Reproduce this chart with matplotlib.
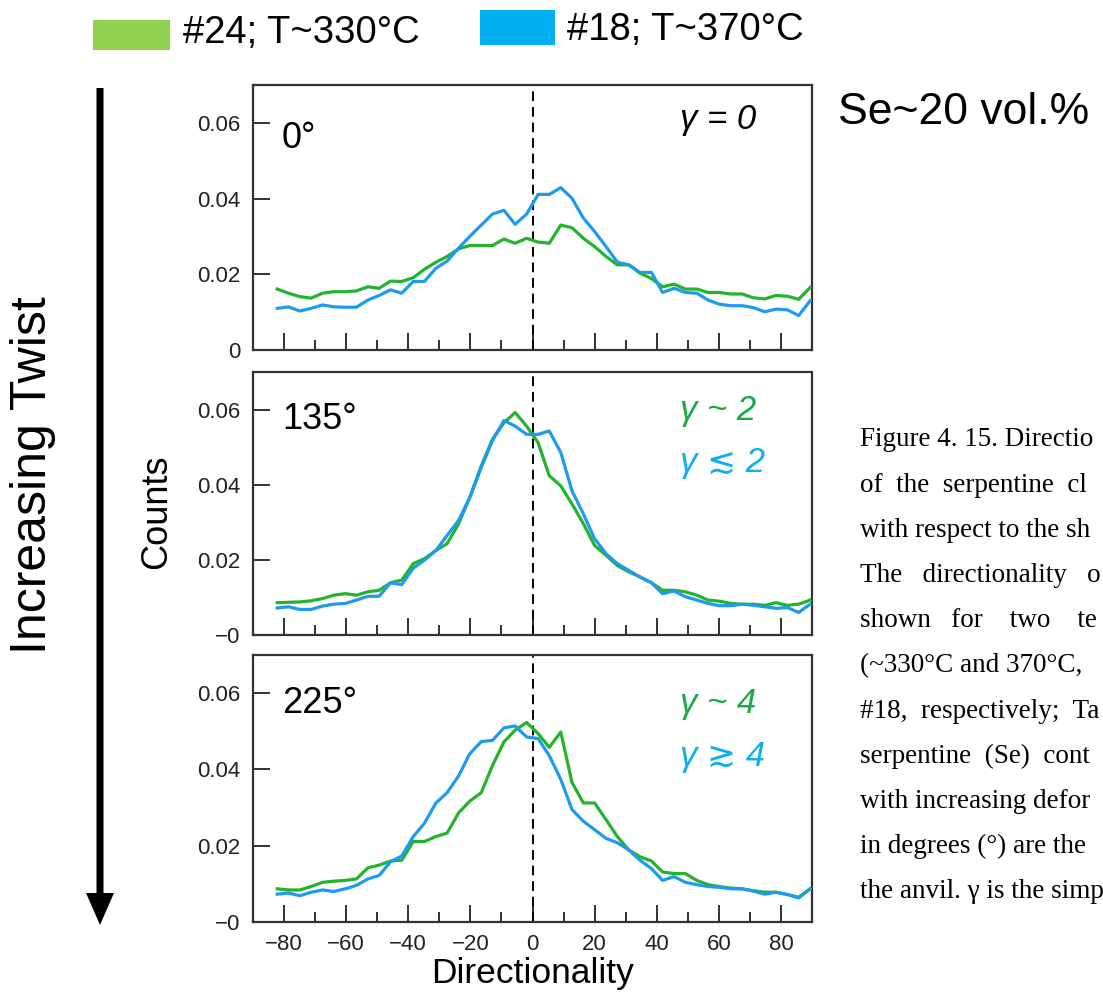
import numpy as np
import matplotlib
matplotlib.use("Agg")
import matplotlib.pyplot as plt
from matplotlib.patches import FancyArrow, Rectangle

plt.rcParams['font.family'] = ['Liberation Sans', 'DejaVu Sans']

# ---- data ----
angles = [-82.2, -78.6, -74.9, -71.3, -67.6, -64.0, -60.3, -56.7, -53.0, -49.4,
          -45.7, -42.1, -38.4, -34.8, -31.1, -27.5, -23.8, -20.2, -16.5, -12.9,
          -9.2, -5.6, -1.9, 1.8, 5.4, 9.1, 12.7, 16.4, 20.0, 23.7,
          27.3, 31.0, 34.6, 38.3, 41.9, 45.6, 49.2, 52.9, 56.5, 60.2,
          63.8, 67.5, 71.1, 74.8, 78.4, 82.1, 85.7, 89.4]

# 0 deg
green_0 = [0.0161, 0.0150, 0.0141, 0.0137, 0.0150, 0.0154, 0.0154, 0.0156, 0.0167, 0.0163,
           0.0182, 0.0181, 0.0191, 0.0213, 0.0232, 0.0247, 0.0267, 0.0276, 0.0276, 0.0276,
           0.0293, 0.0282, 0.0295, 0.0285, 0.0282, 0.0330, 0.0323, 0.0295, 0.0273, 0.0247,
           0.0225, 0.0225, 0.0203, 0.0189, 0.0167, 0.0174, 0.0161, 0.0161, 0.0152, 0.0152,
           0.0148, 0.0148, 0.0138, 0.0135, 0.0144, 0.0142, 0.0134, 0.0165]
blue_0 = [0.0110, 0.0114, 0.0103, 0.0110, 0.0119, 0.0114, 0.0113, 0.0113, 0.0132, 0.0144,
          0.0159, 0.0150, 0.0181, 0.0181, 0.0216, 0.0235, 0.0269, 0.0300, 0.0330, 0.0359,
          0.0369, 0.0332, 0.0359, 0.0411, 0.0411, 0.0429, 0.0401, 0.0348, 0.0313, 0.0273,
          0.0232, 0.0225, 0.0205, 0.0205, 0.0152, 0.0163, 0.0152, 0.0150, 0.0132, 0.0121,
          0.0117, 0.0117, 0.0112, 0.0101, 0.0108, 0.0106, 0.0091, 0.0130]

# 135 deg
green_135 = [0.0086, 0.0087, 0.0088, 0.0091, 0.0097, 0.0106, 0.0110, 0.0106, 0.0115, 0.0119,
             0.0139, 0.0146, 0.0190, 0.0203, 0.0225, 0.0243, 0.0296, 0.0366, 0.0450, 0.0521,
             0.0565, 0.0592, 0.0556, 0.0512, 0.0424, 0.0397, 0.0349, 0.0296, 0.0238, 0.0212,
             0.0185, 0.0168, 0.0155, 0.0139, 0.0119, 0.0119, 0.0115, 0.0106, 0.0093, 0.0090,
             0.0084, 0.0082, 0.0082, 0.0079, 0.0086, 0.0079, 0.0082, 0.0093]
blue_135 = [0.0072, 0.0075, 0.0068, 0.0068, 0.0077, 0.0082, 0.0084, 0.0093, 0.0103, 0.0103,
            0.0139, 0.0134, 0.0178, 0.0199, 0.0225, 0.0265, 0.0305, 0.0366, 0.0446, 0.0517,
            0.0571, 0.0556, 0.0534, 0.0534, 0.0543, 0.0486, 0.0384, 0.0322, 0.0256, 0.0216,
            0.0190, 0.0172, 0.0154, 0.0139, 0.0110, 0.0117, 0.0102, 0.0093, 0.0084, 0.0078,
            0.0078, 0.0082, 0.0079, 0.0075, 0.0071, 0.0073, 0.0060, 0.0082]

# 225 deg
green_225 = [0.0087, 0.0084, 0.0084, 0.0093, 0.0104, 0.0107, 0.0109, 0.0113, 0.0142, 0.0149,
             0.0160, 0.0162, 0.0211, 0.0211, 0.0224, 0.0233, 0.0286, 0.0317, 0.0339, 0.0410,
             0.0472, 0.0503, 0.0523, 0.0494, 0.0458, 0.0498, 0.0366, 0.0312, 0.0312, 0.0268,
             0.0224, 0.0189, 0.0171, 0.0160, 0.0131, 0.0127, 0.0127, 0.0109, 0.0098, 0.0093,
             0.0089, 0.0087, 0.0082, 0.0078, 0.0078, 0.0072, 0.0065, 0.0087]
blue_225 = [0.0073, 0.0076, 0.0069, 0.0078, 0.0084, 0.0080, 0.0087, 0.0096, 0.0113, 0.0122,
            0.0158, 0.0173, 0.0224, 0.0259, 0.0312, 0.0339, 0.0383, 0.0441, 0.0473, 0.0476,
            0.0509, 0.0514, 0.0485, 0.0481, 0.0436, 0.0374, 0.0295, 0.0264, 0.0242, 0.0219,
            0.0208, 0.0189, 0.0162, 0.0140, 0.0109, 0.0119, 0.0104, 0.0098, 0.0093, 0.0091,
            0.0087, 0.0087, 0.0081, 0.0073, 0.0078, 0.0072, 0.0063, 0.0087]

panel_names = ["0°", "135°", "225°"]
green_labels = ["γ = 0", "γ ~ 2", "γ ~ 4"]
blue_labels = [None, "γ ≲ 2", "γ ≳ 4"]
y_ticks = [0, 0.02, 0.04, 0.06]
x_ticks = [-80, -60, -40, -20, 0, 20, 40, 60, 80]

# caption as visible in the picture (it runs off the right edge)
caption = ["Figure 4. 15. Directio",
           "of  the  serpentine  cl",
           "with respect to the sh",
           "The   directionality   o",
           "shown   for    two    te",
           "(~330°C and 370°C,",
           "#18,  respectively;  Ta",
           "serpentine  (Se)  cont",
           "with increasing defor",
           "in degrees (°) are the",
           "the anvil. γ is the simp"]

GREEN = '#22b42a'
BLUE = '#1e9bef'

fig = plt.figure(figsize=(11.03, 9.94), dpi=100, facecolor='white')

# axes boxes in pixels (top, bottom)
boxes = [(85, 350), (372, 635), (655, 922)]
left, right = 253, 812
W, H = 1103.0, 994.0

series = [(green_0, blue_0), (green_135, blue_135), (green_225, blue_225)]

for i, (top, bot) in enumerate(boxes):
    ax = fig.add_axes([left / W, 1 - bot / H, (right - left) / W, (bot - top) / H])
    g, b = series[i]
    ax.plot(angles, g, color=GREEN, lw=2.3, zorder=3)
    ax.plot(angles, b, color=BLUE, lw=2.3, zorder=3)
    ax.axvline(0, color='black', ls=(0, (5, 3)), lw=1.4, zorder=2)
    ax.set_xlim(-90, 90)
    ax.set_ylim(0, 0.07)
    ax.set_xticks(x_ticks)
    ax.set_xticks(np.arange(-80, 81, 10), minor=True)
    ax.set_yticks(y_ticks)
    if i == 0:
        ax.set_yticklabels(["0", "0.02", "0.04", "0.06"])
    else:
        ax.set_yticklabels(["\u22120", "0.02", "0.04", "0.06"])
    ax.tick_params(axis='both', which='major', direction='in', length=12, width=1.3,
                   labelsize=16, pad=9, colors='#222222')
    ax.tick_params(axis='x', which='minor', direction='in', length=7, width=1.3, colors='#222222')
    ax.tick_params(axis='y', which='minor', left=False)
    if i < 2:
        ax.tick_params(axis='x', labelbottom=False)
    else:
        ax.set_xticklabels(["\u221280", "\u221260", "\u221240", "\u221220", "0", "20", "40", "60", "80"])
    for s in ax.spines.values():
        s.set_linewidth(1.6)
        s.set_color('#333333')

    ax.text(0.052, 0.80 if i == 0 else 0.82, panel_names[i], transform=ax.transAxes,
            fontsize=26, va='center', ha='left')
    if i == 0:
        ax.text(0.90, 0.87, green_labels[i], transform=ax.transAxes, fontsize=25,
                style='italic', va='center', ha='right')
    else:
        ax.text(0.764, 0.855 if i == 1 else 0.82, green_labels[i], transform=ax.transAxes,
                fontsize=25, style='italic', va='center', ha='left', color='#1aaa45')
        ax.text(0.764, 0.654 if i == 1 else 0.618, blue_labels[i], transform=ax.transAxes,
                fontsize=25, style='italic', va='center', ha='left', color='#0bb0f0')
    if i == 2:
        ax.set_xlabel("Directionality", fontsize=25.5, labelpad=1)

# axis label for counts
fig.text(157 / W, 1 - 512 / H, "Counts", rotation=90, fontsize=26, ha='center', va='center')

# increasing twist arrow
fig.add_artist(FancyArrow(100 / W, 1 - 88 / H, 0, -(925 - 88) / H, width=7 / W,
                          head_width=28 / W, head_length=32 / H, length_includes_head=True,
                          transform=fig.transFigure, color='black', lw=0))
fig.text(33 / W, 1 - 475 / H, "Increasing Twist", rotation=90, fontsize=36,
         ha='center', va='center')

# legend on top
fig.add_artist(Rectangle((93 / W, 1 - 50 / H), 77 / W, 30 / H, transform=fig.transFigure,
                         color='#92d050', lw=0))
fig.text(183 / W, 1 - 33 / H, "#24; T~330°C", fontsize=27.5, ha='left', va='center')
fig.add_artist(Rectangle((480 / W, 1 - 45 / H), 75 / W, 35 / H, transform=fig.transFigure,
                         color='#00b0f0', lw=0))
fig.text(567 / W, 1 - 30 / H, "#18; T~370°C", fontsize=27.5, ha='left', va='center')

fig.text(838 / W, 1 - 112 / H, "Se~20 vol.%", fontsize=32, ha='left', va='center')

# caption text
for j, line in enumerate(caption):
    fig.text(860 / W, 1 - (440 + 45.2 * j) / H, line, fontsize=19.5,
             family=['Liberation Serif', 'DejaVu Serif'], ha='left', va='center')

fig.savefig("out.png", dpi=100)
